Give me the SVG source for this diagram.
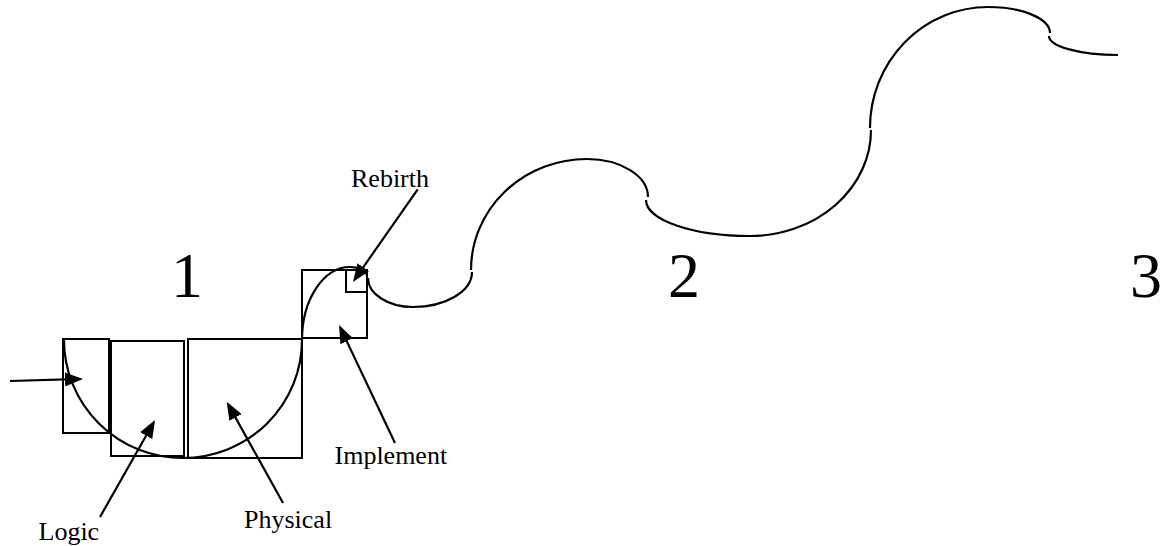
<svg xmlns="http://www.w3.org/2000/svg" width="1162" height="546" viewBox="0 0 1162 546">
<style>
.box{fill:none;stroke:#000;stroke-width:2}
.curve{fill:none;stroke:#000;stroke-width:2.2}
.arr{fill:none;stroke:#000;stroke-width:2.2;marker-end:url(#ah)}
.lbl{font-family:"Liberation Serif","Times New Roman",serif;font-size:26px;fill:#000}
.num{font-family:"Liberation Serif","Times New Roman",serif;font-size:64px;fill:#000;text-anchor:middle}
</style>
<defs>
<marker id="ah" viewBox="0 0 18 14" refX="9" refY="7" markerWidth="18" markerHeight="14" orient="auto" markerUnits="userSpaceOnUse">
<path d="M0,0 L18,7 L0,14 z" fill="#000"/>
</marker>
</defs>
<rect width="1162" height="546" fill="#fff"/>
<g id="box-a"><rect class="box" x="63" y="339" width="46" height="94"/></g>
<g id="box-logic"><rect class="box" x="111" y="341" width="73" height="115"/></g>
<g id="box-physical"><rect class="box" x="188" y="339" width="114" height="119"/></g>
<g id="box-implement"><rect class="box" x="302" y="270" width="65" height="68"/></g>
<g id="box-rebirth"><rect class="box" x="346" y="270" width="21" height="22"/></g>
<g id="spiral">
<path class="curve" d="M64,340 A119,118 0 0 0 302,340 A48,73 0 0 1 350,267 A17,9 0 0 1 367,276"/>
<path class="curve" d="M368,278 A45,29 0 0 0 413,307 A59,35 0 0 0 472,272"/>
<path class="curve" d="M471,270 A116,111 0 0 1 587,159 A61,38 0 0 1 648,197"/>
<path class="curve" d="M646,200 A104,36 0 0 0 750,236 A121,106 0 0 0 871,130"/>
<path class="curve" d="M870,128 A118,121 0 0 1 988,7 A62,26 0 0 1 1050,33"/>
<path class="curve" d="M1049,36 A69,19 0 0 0 1118,55"/>
</g>
<g id="connectors">
<line class="arr" x1="10" y1="381" x2="74" y2="379.2"/>
<line class="arr" x1="100" y1="517" x2="150.6" y2="427.8"/>
<line class="arr" x1="283" y1="503" x2="231.1" y2="409.6"/>
<line class="arr" x1="395" y1="443" x2="342.9" y2="333.1"/>
<line class="arr" x1="417.7" y1="189.3" x2="358.1" y2="274.6"/>
</g>
<g id="labels">
<text class="lbl" x="351" y="187">Rebirth</text>
<text class="lbl" x="334.5" y="464">Implement</text>
<text class="lbl" x="244" y="528">Physical</text>
<text class="lbl" x="38.5" y="540">Logic</text>
<text class="num" x="187" y="297">1</text>
<text class="num" x="684" y="297">2</text>
<text class="num" x="1146" y="297">3</text>
</g>
</svg>
